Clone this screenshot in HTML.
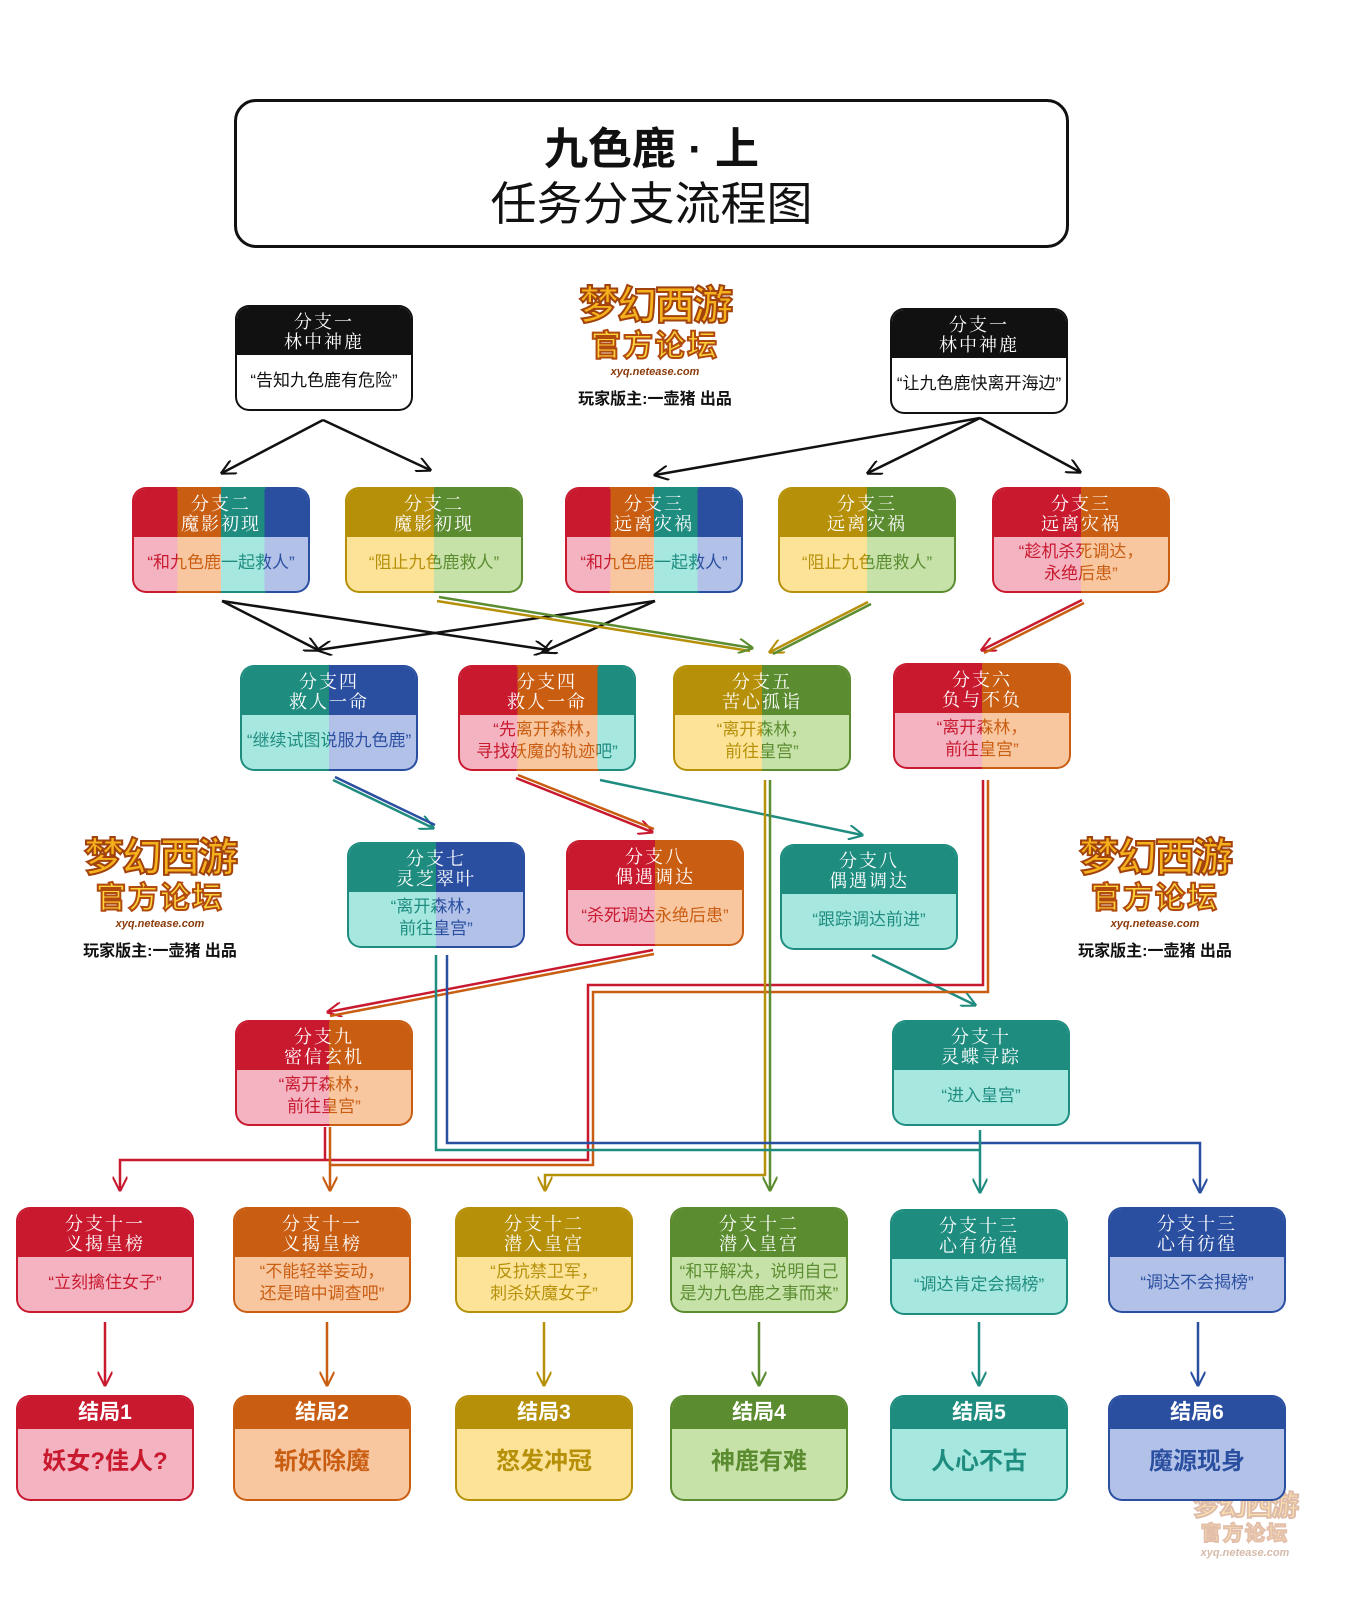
<!DOCTYPE html>
<html><head><meta charset="utf-8"><style>
*{box-sizing:border-box;margin:0;padding:0}
body{width:1347px;height:1600px;background:#fff;position:relative;overflow:hidden;font-family:"Liberation Sans","Noto Sans CJK SC",sans-serif}
.title{position:absolute;left:234px;top:99px;width:835px;height:149px;border:3px solid #111;border-radius:22px;text-align:center}
.title .a{font-size:44px;font-weight:bold;margin-top:22px;line-height:52px;color:#111}
.title .b{font-size:46px;line-height:56px;color:#111}
.n{position:absolute;width:178px;height:106px;border-radius:14px;padding:2px;background:var(--d)}
.n .in{width:100%;height:100%;border-radius:12px;overflow:hidden;background:var(--l);display:flex;flex-direction:column}
.n .h{height:48px;background:var(--d);color:#fff;font-family:"Noto Serif CJK SC",serif;font-size:18px;line-height:20px;text-align:center;padding-top:4px;letter-spacing:2px}
.n .bd{flex:1;display:flex;align-items:center;justify-content:center;text-align:center;font-size:17px;line-height:22px;white-space:nowrap;background:var(--d);-webkit-background-clip:text;background-clip:text;color:transparent;margin-top:-2px}
.e{position:absolute;width:178px;height:106px;border-radius:14px;padding:2px;background:var(--d)}
.e .in{width:100%;height:100%;border-radius:12px;overflow:hidden;background:var(--l)}
.e .h{height:32px;background:var(--d);color:#fff;font-weight:bold;font-size:21px;line-height:32px;text-align:center}
.e .bd{text-align:center;font-weight:bold;font-size:24px;line-height:66px;color:var(--c)}
.logo{position:absolute;width:190px;text-align:center}
.logo .m{font-size:40px;font-weight:bold;color:#f6b21c;-webkit-text-stroke:2px #a2420c;line-height:46px;letter-spacing:-2px}
.logo .g{font-size:30px;font-weight:bold;color:#ffd33a;-webkit-text-stroke:2px #b04a0e;line-height:36px;letter-spacing:2px}
.logo .u{font-size:11px;font-style:italic;font-weight:bold;color:#8a3a0a;line-height:14px}
.logo .p{font-size:16px;font-weight:bold;color:#111;margin-top:10px}
svg{position:absolute;left:0;top:0}
</style></head><body>
<div class="title"><div class="a">九色鹿 · 上</div><div class="b">任务分支流程图</div></div>

<div class="logo" style="left:560px;top:283px"><div class="m">梦幻西游</div><div class="g">官方论坛</div><div class="u">xyq.netease.com</div><div class="p" style="margin-top:6px">玩家版主:一壶猪 出品</div></div>
<div class="logo" style="left:65px;top:835px"><div class="m">梦幻西游</div><div class="g">官方论坛</div><div class="u">xyq.netease.com</div><div class="p" style="margin-top:6px">玩家版主:一壶猪 出品</div></div>
<div class="logo" style="left:1060px;top:835px"><div class="m">梦幻西游</div><div class="g">官方论坛</div><div class="u">xyq.netease.com</div><div class="p" style="margin-top:6px">玩家版主:一壶猪 出品</div></div>
<div class="logo" style="left:1180px;top:1490px;width:130px;opacity:.35"><div class="m" style="font-size:28px;line-height:32px">梦幻西游</div><div class="g" style="font-size:20px;line-height:24px">官方论坛</div><div class="u">xyq.netease.com</div></div>

<svg width="1347" height="1600" viewBox="0 0 1347 1600">
<defs>
<marker id="mk" viewBox="0 0 10 10" refX="9" refY="5" markerWidth="15" markerHeight="15" orient="auto" markerUnits="userSpaceOnUse"><path d="M0 0L10 5L0 10" fill="none" stroke="#111" stroke-width="1.4"/></marker>
<marker id="mr" viewBox="0 0 10 10" refX="9" refY="5" markerWidth="15" markerHeight="15" orient="auto" markerUnits="userSpaceOnUse"><path d="M0 0L10 5L0 10" fill="none" stroke="#c8192f" stroke-width="1.4"/></marker>
<marker id="mo" viewBox="0 0 10 10" refX="9" refY="5" markerWidth="15" markerHeight="15" orient="auto" markerUnits="userSpaceOnUse"><path d="M0 0L10 5L0 10" fill="none" stroke="#c95d12" stroke-width="1.4"/></marker>
<marker id="my" viewBox="0 0 10 10" refX="9" refY="5" markerWidth="15" markerHeight="15" orient="auto" markerUnits="userSpaceOnUse"><path d="M0 0L10 5L0 10" fill="none" stroke="#b59008" stroke-width="1.4"/></marker>
<marker id="mg" viewBox="0 0 10 10" refX="9" refY="5" markerWidth="15" markerHeight="15" orient="auto" markerUnits="userSpaceOnUse"><path d="M0 0L10 5L0 10" fill="none" stroke="#5b8c30" stroke-width="1.4"/></marker>
<marker id="mt" viewBox="0 0 10 10" refX="9" refY="5" markerWidth="15" markerHeight="15" orient="auto" markerUnits="userSpaceOnUse"><path d="M0 0L10 5L0 10" fill="none" stroke="#1f8c80" stroke-width="1.4"/></marker>
<marker id="mb" viewBox="0 0 10 10" refX="9" refY="5" markerWidth="15" markerHeight="15" orient="auto" markerUnits="userSpaceOnUse"><path d="M0 0L10 5L0 10" fill="none" stroke="#2b4fa0" stroke-width="1.4"/></marker>
</defs>
<g fill="none" stroke-width="2.5">
<g stroke="#111" marker-end="url(#mk)">
<path d="M323 420L222 473"/><path d="M323 420L430 470"/>
<path d="M980 418L655 475"/><path d="M980 418L868 473"/><path d="M980 418L1080 472"/>
<path d="M222 601L318 650"/><path d="M222 601L548 650"/><path d="M655 601L318 650"/><path d="M655 601L543 652"/>
</g>
<path d="M437 601L750 651" stroke="#b59008"/><path d="M439 597L752 648" stroke="#5b8c30" marker-end="url(#mg)"/>
<path d="M868 602L770 652" stroke="#b59008" marker-end="url(#my)"/><path d="M871 604L773 654" stroke="#5b8c30"/>
<path d="M1082 600L982 650" stroke="#c8192f" marker-end="url(#mr)"/><path d="M1084 603L984 653" stroke="#c95d12"/>
<path d="M333 780L433 828" stroke="#1f8c80" marker-end="url(#mt)"/><path d="M335 777L435 825" stroke="#2b4fa0"/>
<path d="M516 778L652 832" stroke="#c8192f" marker-end="url(#mr)"/><path d="M518 775L654 829" stroke="#c95d12"/>
<path d="M600 780L862 835" stroke="#1f8c80" marker-end="url(#mt)"/>
<path d="M653 950L328 1012" stroke="#c8192f" marker-end="url(#mr)"/><path d="M654 954L330 1016" stroke="#c95d12"/>
<path d="M872 955L975 1005" stroke="#1f8c80" marker-end="url(#mt)"/>
<path d="M983 780V985H588V1160H120V1190" stroke="#c8192f" marker-end="url(#mr)"/>
<path d="M988 780V992H593V1165H330V1190" stroke="#c95d12" marker-end="url(#mo)"/>
<path d="M325 1127V1160" stroke="#c8192f"/><path d="M330 1127V1165" stroke="#c95d12"/>
<path d="M765 780V1175H545V1190" stroke="#b59008" marker-end="url(#my)"/>
<path d="M770 780V1190" stroke="#5b8c30" marker-end="url(#mg)"/>
<path d="M447 955V1143H1200V1192" stroke="#2b4fa0" marker-end="url(#mb)"/>
<path d="M436 955V1150H980" stroke="#1f8c80"/>
<path d="M980 1130V1192" stroke="#1f8c80" marker-end="url(#mt)"/>
<path d="M105 1322V1385" stroke="#c8192f" marker-end="url(#mr)"/>
<path d="M327 1322V1385" stroke="#c95d12" marker-end="url(#mo)"/>
<path d="M544 1322V1385" stroke="#b59008" marker-end="url(#my)"/>
<path d="M759 1322V1385" stroke="#5b8c30" marker-end="url(#mg)"/>
<path d="M979 1322V1385" stroke="#1f8c80" marker-end="url(#mt)"/>
<path d="M1198 1322V1385" stroke="#2b4fa0" marker-end="url(#mb)"/>
</g>
</svg>

<!-- top -->
<div class="n" style="left:235px;top:305px;--d:#111;--l:#fff"><div class="in"><div class="h">分支一<br>林中神鹿</div><div class="bd">“告知九色鹿有危险”</div></div></div>
<div class="n" style="left:890px;top:308px;--d:#111;--l:#fff"><div class="in"><div class="h">分支一<br>林中神鹿</div><div class="bd">“让九色鹿快离开海边”</div></div></div>

<!-- row2 -->
<div class="n" style="left:132px;top:487px;--d:linear-gradient(90deg,#c8192f 25%,#c95d12 25% 50%,#1f8c80 50% 75%,#2b4fa0 75%);--l:linear-gradient(90deg,#f4b3c1 25%,#f8c7a0 25% 50%,#a6e8df 50% 75%,#b1c1e8 75%)"><div class="in"><div class="h">分支二<br>魔影初现</div><div class="bd">“和九色鹿一起救人”</div></div></div>
<div class="n" style="left:345px;top:487px;--d:linear-gradient(90deg,#b59008 50%,#5b8c30 50%);--l:linear-gradient(90deg,#fde398 50%,#c7e2a9 50%)"><div class="in"><div class="h">分支二<br>魔影初现</div><div class="bd">“阻止九色鹿救人”</div></div></div>
<div class="n" style="left:565px;top:487px;--d:linear-gradient(90deg,#c8192f 25%,#c95d12 25% 50%,#1f8c80 50% 75%,#2b4fa0 75%);--l:linear-gradient(90deg,#f4b3c1 25%,#f8c7a0 25% 50%,#a6e8df 50% 75%,#b1c1e8 75%)"><div class="in"><div class="h">分支三<br>远离灾祸</div><div class="bd">“和九色鹿一起救人”</div></div></div>
<div class="n" style="left:778px;top:487px;--d:linear-gradient(90deg,#b59008 50%,#5b8c30 50%);--l:linear-gradient(90deg,#fde398 50%,#c7e2a9 50%)"><div class="in"><div class="h">分支三<br>远离灾祸</div><div class="bd">“阻止九色鹿救人”</div></div></div>
<div class="n" style="left:992px;top:487px;--d:linear-gradient(90deg,#c8192f 50%,#c95d12 50%);--l:linear-gradient(90deg,#f4b3c1 50%,#f8c7a0 50%)"><div class="in"><div class="h">分支三<br>远离灾祸</div><div class="bd">“趁机杀死调达，<br>永绝后患”</div></div></div>

<!-- row3 -->
<div class="n" style="left:240px;top:665px;--d:linear-gradient(90deg,#1f8c80 50%,#2b4fa0 50%);--l:linear-gradient(90deg,#a6e8df 50%,#b1c1e8 50%)"><div class="in"><div class="h">分支四<br>救人一命</div><div class="bd">“继续试图说服九色鹿”</div></div></div>
<div class="n" style="left:458px;top:665px;--d:linear-gradient(90deg,#c8192f 33%,#c95d12 33% 79%,#1f8c80 79%);--l:linear-gradient(90deg,#f4b3c1 33%,#f8c7a0 33% 79%,#a6e8df 79%)"><div class="in"><div class="h">分支四<br>救人一命</div><div class="bd">“先离开森林，<br>寻找妖魔的轨迹吧”</div></div></div>
<div class="n" style="left:673px;top:665px;--d:linear-gradient(90deg,#b59008 50%,#5b8c30 50%);--l:linear-gradient(90deg,#fde398 50%,#c7e2a9 50%)"><div class="in"><div class="h">分支五<br>苦心孤诣</div><div class="bd">“离开森林，<br>前往皇宫”</div></div></div>
<div class="n" style="left:893px;top:663px;--d:linear-gradient(90deg,#c8192f 50%,#c95d12 50%);--l:linear-gradient(90deg,#f4b3c1 50%,#f8c7a0 50%)"><div class="in"><div class="h">分支六<br>负与不负</div><div class="bd">“离开森林，<br>前往皇宫”</div></div></div>

<!-- row4 -->
<div class="n" style="left:347px;top:842px;--d:linear-gradient(90deg,#1f8c80 50%,#2b4fa0 50%);--l:linear-gradient(90deg,#a6e8df 50%,#b1c1e8 50%)"><div class="in"><div class="h">分支七<br>灵芝翠叶</div><div class="bd">“离开森林，<br>前往皇宫”</div></div></div>
<div class="n" style="left:566px;top:840px;--d:linear-gradient(90deg,#c8192f 50%,#c95d12 50%);--l:linear-gradient(90deg,#f4b3c1 50%,#f8c7a0 50%)"><div class="in"><div class="h">分支八<br>偶遇调达</div><div class="bd">“杀死调达永绝后患”</div></div></div>
<div class="n" style="left:780px;top:844px;--d:#1f8c80;--l:#a6e8df"><div class="in"><div class="h">分支八<br>偶遇调达</div><div class="bd">“跟踪调达前进”</div></div></div>

<!-- row5 -->
<div class="n" style="left:235px;top:1020px;--d:linear-gradient(90deg,#c8192f 53%,#c95d12 53%);--l:linear-gradient(90deg,#f4b3c1 53%,#f8c7a0 53%)"><div class="in"><div class="h">分支九<br>密信玄机</div><div class="bd">“离开森林，<br>前往皇宫”</div></div></div>
<div class="n" style="left:892px;top:1020px;--d:#1f8c80;--l:#a6e8df"><div class="in"><div class="h">分支十<br>灵蝶寻踪</div><div class="bd">“进入皇宫”</div></div></div>

<!-- row6 -->
<div class="n" style="left:16px;top:1207px;--d:#c8192f;--l:#f4b3c1"><div class="in"><div class="h">分支十一<br>义揭皇榜</div><div class="bd">“立刻擒住女子”</div></div></div>
<div class="n" style="left:233px;top:1207px;--d:#c95d12;--l:#f8c7a0"><div class="in"><div class="h">分支十一<br>义揭皇榜</div><div class="bd">“不能轻举妄动，<br>还是暗中调查吧”</div></div></div>
<div class="n" style="left:455px;top:1207px;--d:#b59008;--l:#fde398"><div class="in"><div class="h">分支十二<br>潜入皇宫</div><div class="bd">“反抗禁卫军，<br>刺杀妖魔女子”</div></div></div>
<div class="n" style="left:670px;top:1207px;--d:#5b8c30;--l:#c7e2a9"><div class="in"><div class="h">分支十二<br>潜入皇宫</div><div class="bd">“和平解决，说明自己<br>是为九色鹿之事而来”</div></div></div>
<div class="n" style="left:890px;top:1209px;--d:#1f8c80;--l:#a6e8df"><div class="in"><div class="h">分支十三<br>心有彷徨</div><div class="bd">“调达肯定会揭榜”</div></div></div>
<div class="n" style="left:1108px;top:1207px;--d:#2b4fa0;--l:#b1c1e8"><div class="in"><div class="h">分支十三<br>心有彷徨</div><div class="bd">“调达不会揭榜”</div></div></div>

<!-- endings -->
<div class="e" style="left:16px;top:1395px;--d:#c8192f;--l:#f4b3c1;--c:#c8192f"><div class="in"><div class="h">结局1</div><div class="bd">妖女?佳人?</div></div></div>
<div class="e" style="left:233px;top:1395px;--d:#c95d12;--l:#f8c7a0;--c:#c95d12"><div class="in"><div class="h">结局2</div><div class="bd">斩妖除魔</div></div></div>
<div class="e" style="left:455px;top:1395px;--d:#b59008;--l:#fde398;--c:#b59008"><div class="in"><div class="h">结局3</div><div class="bd">怒发冲冠</div></div></div>
<div class="e" style="left:670px;top:1395px;--d:#5b8c30;--l:#c7e2a9;--c:#5b8c30"><div class="in"><div class="h">结局4</div><div class="bd">神鹿有难</div></div></div>
<div class="e" style="left:890px;top:1395px;--d:#1f8c80;--l:#a6e8df;--c:#1f8c80"><div class="in"><div class="h">结局5</div><div class="bd">人心不古</div></div></div>
<div class="e" style="left:1108px;top:1395px;--d:#2b4fa0;--l:#b1c1e8;--c:#2b4fa0"><div class="in"><div class="h">结局6</div><div class="bd">魔源现身</div></div></div>
</body></html>
